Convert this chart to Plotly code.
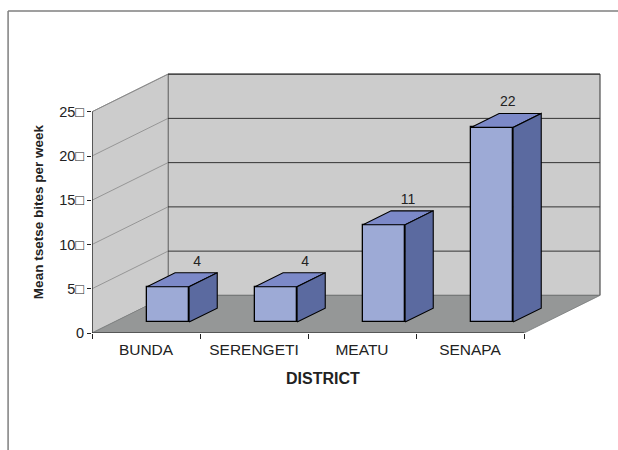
import plotly.graph_objects as go

# ---- data ----
categories = ["BUNDA", "SERENGETI", "MEATU", "SENAPA"]
values = [4, 4, 11, 22]
value_labels = ["4", "4", "11", "22"]
y_tickvals = [0, 5, 10, 15, 20, 25]
y_ticktext = ["0", "5\u25a1", "10\u25a1", "15\u25a1", "20\u25a1", "25\u25a1"]
y_title = "Mean tsetse bites per week"
x_title = "DISTRICT"

# ---- 3D projection parameters (in data units) ----
DX = 0.704   # depth shift along x (category units)
DY = 4.25    # depth shift along y (value units)
D0, D1 = 0.29, 0.66   # bar depth extent (fraction of floor depth)
HW = 0.195   # half bar width
YMAX = 25
N = len(categories)

FRONT = "#9DAAD6"
TOP = "#7C89C8"
SIDE = "#5B6AA0"
WALL = "#CCCCCC"
FLOOR = "#959797"
FONT = "Liberation Sans, Arial, sans-serif"
TXT = "#222222"

fig = go.Figure()

# front faces as bars
centers = [i + 0.5 for i in range(N)]
fig.add_trace(go.Bar(
    x=[c + D0 * DX for c in centers],
    y=[v for v in values],
    base=[D0 * DY] * N,
    width=2 * HW,
    marker=dict(color=FRONT, line=dict(color="black", width=1.3)),
    hoverinfo="skip", showlegend=False,
))

# top and side faces
for c, v in zip(centers, values):
    xl = c - HW + D0 * DX
    xr = c + HW + D0 * DX
    yb = D0 * DY
    yt = v + D0 * DY
    ddx = (D1 - D0) * DX
    ddy = (D1 - D0) * DY
    fig.add_trace(go.Scatter(
        x=[xl, xr, xr + ddx, xl + ddx, xl], y=[yt, yt, yt + ddy, yt + ddy, yt],
        fill="toself", fillcolor=TOP, mode="lines",
        line=dict(color="black", width=1.1), hoverinfo="skip", showlegend=False))
    fig.add_trace(go.Scatter(
        x=[xr, xr + ddx, xr + ddx, xr, xr], y=[yb, yb + ddy, yt + ddy, yt, yb],
        fill="toself", fillcolor=SIDE, mode="lines",
        line=dict(color="black", width=1.1), hoverinfo="skip", showlegend=False))

# value labels (perspective pulls taller labels slightly left)
fig.add_trace(go.Scatter(
    x=[c + 0.5 - 0.0068 * v for c, v in zip(centers, values)],
    y=[v + D1 * DY + 0.4 for v in values],
    mode="text", text=value_labels, textposition="top center",
    textfont=dict(family=FONT, size=14, color=TXT),
    hoverinfo="skip", showlegend=False))

# front axis lines (y axis and floor front edge)
fig.add_trace(go.Scatter(x=[0, 0, N], y=[YMAX, 0, 0], mode="lines",
                         line=dict(color="#222222", width=1.2),
                         hoverinfo="skip", showlegend=False))

# ---- walls, floor, gridlines as background shapes ----
shapes = []
def poly(pts, fill, line_color, lw=1):
    path = "M " + " L ".join(f"{x},{y}" for x, y in pts) + " Z"
    return dict(type="path", path=path, xref="x", yref="y", layer="below",
                fillcolor=fill, line=dict(color=line_color, width=lw))

shapes.append(poly([(DX, DY), (N + DX, DY), (N + DX, YMAX + DY), (DX, YMAX + DY)], WALL, "#333333", 1))
shapes.append(poly([(0, 0), (0, YMAX), (DX, YMAX + DY), (DX, DY)], WALL, "#777777", 0.8))
for k in y_tickvals[1:]:
    shapes.append(dict(type="line", xref="x", yref="y", layer="below",
                       x0=DX, x1=N + DX, y0=k + DY, y1=k + DY,
                       line=dict(color="#333333", width=1)))
    shapes.append(dict(type="line", xref="x", yref="y", layer="below",
                       x0=0, x1=DX, y0=k, y1=k + DY,
                       line=dict(color="#888888", width=0.8)))
shapes.append(poly([(0, 0), (N, 0), (N + DX, DY), (DX, DY)], FLOOR, "#7a7c7c", 0.8))

# page border (top and left)
shapes.append(dict(type="line", xref="paper", yref="paper", x0=-0.162, x1=1.05,
                   y0=1.099, y1=1.099, line=dict(color="#7f7f7f", width=1.5)))
shapes.append(dict(type="line", xref="paper", yref="paper", x0=-0.162, x1=-0.162,
                   y0=1.099, y1=-0.45, line=dict(color="#7f7f7f", width=1.5)))

fig.update_layout(
    width=618, height=450,
    margin=dict(l=92, r=8, t=40, b=117),
    paper_bgcolor="white", plot_bgcolor="rgba(0,0,0,0)",
    shapes=shapes,
    bargap=0,
    font=dict(family=FONT, color=TXT),
    xaxis=dict(range=[0, 518 / 108], tickvals=centers, ticktext=categories,
               ticks="", showgrid=False, zeroline=False, showline=False,
               tickfont=dict(size=15.5, color=TXT), ticklabelstandoff=5,
               minor=dict(ticks="outside", dtick=1, tick0=0, ticklen=5,
                          tickcolor="#222222", showgrid=False, tickwidth=1),
               fixedrange=True),
    yaxis=dict(range=[0, 293 / 8.85], tickvals=y_tickvals, ticktext=y_ticktext,
               ticks="outside", ticklen=4, tickcolor="#222222",
               showgrid=False, zeroline=False, showline=False,
               tickfont=dict(size=14.5, color=TXT), fixedrange=True),
    annotations=[
        dict(text=y_title, xref="paper", yref="paper", x=-0.104,
             y=(333 - 212) / 293, textangle=-90, showarrow=False,
             xanchor="center", yanchor="middle",
             font=dict(family=FONT, size=13.5, color=TXT, weight="bold")),
        dict(text=x_title, xref="paper", yref="paper", x=(323 - 92) / 518,
             y=(333 - 378) / 293, showarrow=False, xanchor="center", yanchor="middle",
             font=dict(family=FONT, size=16, color=TXT, weight="bold")),
    ],
)

fig.write_html("out.html", config={"displayModeBar": False},
               post_script="document.body.style.margin='0';document.body.style.padding='0';")
